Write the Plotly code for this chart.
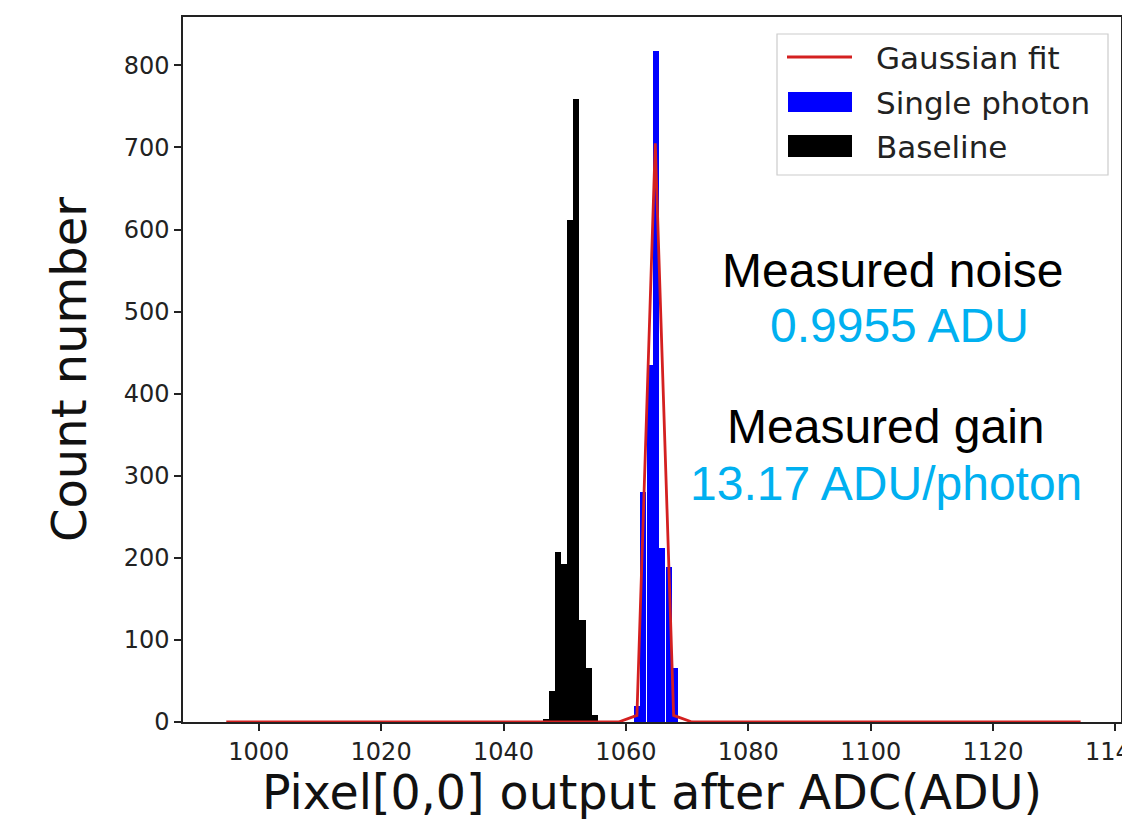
import plotly.graph_objects as go

# ---- data ----
baseline_x = [1046.9, 1047.9, 1048.9, 1049.9, 1050.9, 1051.9, 1052.9, 1053.9, 1054.9]
baseline_counts = [4, 38, 207, 192, 612, 759, 124, 66, 8]

photon_x = [1061.8, 1062.8, 1063.9, 1064.9, 1065.9, 1067.0, 1068.0]
photon_counts = [20, 280, 435, 817, 212, 189, 66]

fit_x = [994.7, 1058.8, 1061.8, 1064.8, 1067.8, 1070.8, 1134.3]
fit_y = [0, 0, 8, 705, 8, 0, 0]

x_ticks = [1000, 1020, 1040, 1060, 1080, 1100, 1120, 1140]
y_ticks = [0, 100, 200, 300, 400, 500, 600, 700, 800]

legend_labels = ["Gaussian fit", "Single photon", "Baseline"]

OFF = 8  # page body margin in the browser
W, H = 1114, 812  # figure fits inside the window (no scrollbars)
L, R, T, B = 183, 1121, 17, 722  # plot area in screen pixels


def px(x):
    return (x - L) / (R - L)


def py(y):
    return (B - y) / (B - T)


fig = go.Figure()
fig.add_trace(go.Bar(x=baseline_x, y=baseline_counts, width=1.0,
                     marker=dict(color="#000000", line=dict(width=0)),
                     name="Baseline", showlegend=False))
fig.add_trace(go.Bar(x=photon_x, y=photon_counts, width=1.0,
                     marker=dict(color="#0000ff", line=dict(width=0)),
                     name="Single photon", showlegend=False))
fig.add_trace(go.Scatter(x=fit_x, y=fit_y, mode="lines",
                         line=dict(color="#d42020", width=2.8),
                         name="Gaussian fit", showlegend=False))

tick_font = dict(family="DejaVu Sans", size=24, color="#222222")
fig.update_layout(
    width=W, height=H,
    margin=dict(l=L - OFF, r=W + OFF - R, t=T - OFF, b=H + OFF - B, pad=0),
    paper_bgcolor="white", plot_bgcolor="white",
    barmode="overlay", bargap=0,
    showlegend=False,
    xaxis=dict(range=[987.63, 1140.9], tickvals=x_ticks,
               ticktext=[str(v) for v in x_ticks], automargin=False,
               ticklabeloverflow="allow",
               showline=True, mirror=True, linecolor="#222222", linewidth=1.5,
               ticks="outside", ticklen=7, tickwidth=1.5, tickcolor="#222222",
               showgrid=False, zeroline=False, tickfont=tick_font,
               title=dict(text="Pixel[0,0] output after ADC(ADU)",
                          font=dict(family="DejaVu Sans", size=47.5, color="#111111"),
                          standoff=8)),
    yaxis=dict(range=[0, 859], tickvals=y_ticks, automargin=False,
               showline=True, mirror=True, linecolor="#222222", linewidth=1.5,
               ticks="outside", ticklen=7, tickwidth=1.5, tickcolor="#222222",
               showgrid=False, zeroline=False, tickfont=tick_font,
               title=dict(text="Count number",
                          font=dict(family="DejaVu Sans", size=48, color="#111111"),
                          standoff=22)),
)

# ---- legend (matplotlib style) ----
fig.add_shape(type="rect", xref="paper", yref="paper",
              x0=px(777), x1=px(1108), y0=py(175), y1=py(34),
              line=dict(color="#cccccc", width=1.2), fillcolor="rgba(255,255,255,0.85)",
              layer="above")
fig.add_shape(type="line", xref="paper", yref="paper",
              x0=px(787), x1=px(852), y0=py(57), y1=py(57),
              line=dict(color="#d42020", width=2.8), layer="above")
fig.add_shape(type="rect", xref="paper", yref="paper",
              x0=px(788), x1=px(852), y0=py(112), y1=py(92),
              line=dict(width=0), fillcolor="#0000ff", layer="above")
fig.add_shape(type="rect", xref="paper", yref="paper",
              x0=px(788), x1=px(852), y0=py(157), y1=py(135),
              line=dict(width=0), fillcolor="#000000", layer="above")
for lbl, yy in zip(legend_labels, [58, 103, 147]):
    fig.add_annotation(text=lbl, xref="paper", yref="paper",
                       x=px(874), y=py(yy), xanchor="left", yanchor="middle",
                       showarrow=False,
                       font=dict(family="DejaVu Sans", size=31, color="#222222"))

# ---- text annotations ----
ann_font = "Liberation Sans, Arial, sans-serif"
notes = [
    ("Measured noise", 893, 270, "#000000"),
    ("0.9955 ADU", 899, 325, "#00b0f0"),
    ("Measured gain", 886, 427, "#000000"),
    ("13.17 ADU/photon", 886, 484, "#00b0f0"),
]
for txt, xx, yy, col in notes:
    fig.add_annotation(text=txt, xref="paper", yref="paper",
                       x=px(xx), y=py(yy), xanchor="center", yanchor="middle",
                       showarrow=False,
                       font=dict(family=ann_font, size=48, color=col))

fig.write_html("out.html")
